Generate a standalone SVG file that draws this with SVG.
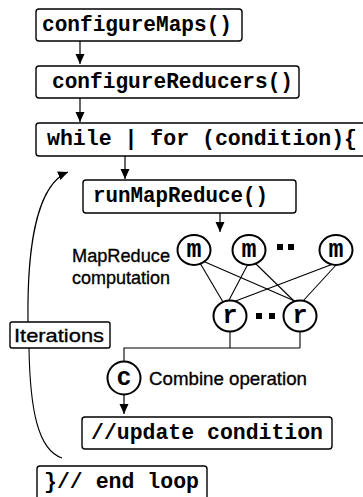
<svg xmlns="http://www.w3.org/2000/svg" width="363" height="497" viewBox="0 0 363 497">
  <style>
    .box { fill: #ffffff; stroke: #000000; stroke-width: 1.4; }
    .code { font-family: "Liberation Mono", "Courier New", monospace; font-weight: bold; font-size: 21.3px; fill: #000000; }
    .lbl { font-family: "Liberation Sans", Arial, sans-serif; font-size: 19px; fill: #000000; stroke: #000000; stroke-width: 0.35; }
    .node { fill: #ffffff; stroke: #000000; stroke-width: 2; }
    .letter { font-family: "Liberation Mono", "Courier New", monospace; font-weight: bold; font-size: 25px; fill: #000000; text-anchor: middle; }
    .edge { fill: none; stroke: #000000; stroke-width: 1.1; }
    .arrow { fill: none; stroke: #000000; stroke-width: 1.2; marker-end: url(#ah); }
    .dot { fill: #000000; }
  </style>
  <defs>
    <marker id="ah" markerUnits="userSpaceOnUse" markerWidth="12" markerHeight="12" viewBox="0 0 12 12" refX="10" refY="6" orient="auto">
      <path d="M0,1.5 L10,6 L0,10.5 Z" fill="#000000"/>
    </marker>
  </defs>
  <rect width="363" height="497" fill="#ffffff"/>

  <g id="connectors">
    <line class="arrow" x1="80" y1="41" x2="80" y2="64"/>
    <line class="arrow" x1="80" y1="98" x2="80" y2="122"/>
    <line class="arrow" x1="125" y1="156" x2="125" y2="179"/>
    <line class="arrow" x1="220" y1="213" x2="220" y2="232"/>
    <line class="edge" x1="200" y1="263" x2="223" y2="302"/>
    <line class="edge" x1="205" y1="262" x2="297" y2="302"/>
    <line class="edge" x1="248" y1="264" x2="228" y2="302"/>
    <line class="edge" x1="255" y1="263" x2="295" y2="302"/>
    <line class="edge" x1="333" y1="264" x2="233" y2="302"/>
    <line class="edge" x1="337" y1="264" x2="303" y2="301"/>
    <polyline class="edge" points="230,331 230,348"/>
    <polyline class="edge" points="300,331 300,348"/>
    <polyline class="edge" points="300,348 124,348 124,361"/>
    <line class="arrow" x1="124" y1="395" x2="124" y2="414"/>
    <path class="arrow" d="M28,322 C27,250 36,185 68,172"/>
    <path class="edge" d="M29,348 C30,410 38,450 62,458"/>
  </g>

  <g id="configureMaps">
    <rect class="box" x="36" y="9" width="206" height="32" rx="3"/>
    <text class="code" x="42" y="31" textLength="190" lengthAdjust="spacingAndGlyphs">configureMaps()</text>
  </g>
  <g id="configureReducers">
    <rect class="box" x="36" y="66" width="263" height="32" rx="3"/>
    <text class="code" x="52" y="88" textLength="241" lengthAdjust="spacingAndGlyphs">configureReducers()</text>
  </g>
  <g id="whileLoop">
    <rect class="box" x="36" y="123" width="340" height="33" rx="3"/>
    <text class="code" x="47" y="145" textLength="310" lengthAdjust="spacingAndGlyphs">while | for (condition){</text>
  </g>
  <g id="runMapReduce">
    <rect class="box" x="83" y="180" width="213" height="33" rx="3"/>
    <text class="code" x="93" y="202" textLength="175" lengthAdjust="spacingAndGlyphs">runMapReduce()</text>
  </g>
  <g id="mapreduceLabel">
    <text class="lbl" x="72" y="262" textLength="98" lengthAdjust="spacingAndGlyphs">MapReduce</text>
    <text class="lbl" x="72" y="284" textLength="98" lengthAdjust="spacingAndGlyphs">computation</text>
  </g>
  <g id="m1">
    <ellipse class="node" cx="194" cy="250" rx="16.5" ry="15"/>
    <text class="letter" x="194" y="257">m</text>
  </g>
  <g id="m2">
    <ellipse class="node" cx="249" cy="250" rx="16.5" ry="15"/>
    <text class="letter" x="249" y="257">m</text>
  </g>
  <g id="mDots">
    <rect class="dot" x="277" y="244" width="6" height="6"/>
    <rect class="dot" x="288" y="244" width="6" height="6"/>
  </g>
  <g id="m3">
    <ellipse class="node" cx="336" cy="250" rx="16.5" ry="15"/>
    <text class="letter" x="336" y="257">m</text>
  </g>
  <g id="r1">
    <ellipse class="node" cx="230" cy="316" rx="16.5" ry="15.5"/>
    <text class="letter" x="230" y="323">r</text>
  </g>
  <g id="rDots">
    <rect class="dot" x="256" y="313" width="6" height="6"/>
    <rect class="dot" x="269" y="313" width="6" height="6"/>
  </g>
  <g id="r2">
    <ellipse class="node" cx="300" cy="316" rx="16.5" ry="15.5"/>
    <text class="letter" x="300" y="323">r</text>
  </g>
  <g id="iterations">
    <rect class="box" x="10" y="322" width="100" height="26" rx="2"/>
    <text class="lbl" x="14" y="342" font-size="21" textLength="90" lengthAdjust="spacingAndGlyphs">Iterations</text>
  </g>
  <g id="combine">
    <ellipse class="node" cx="124" cy="378" rx="16.5" ry="16.5"/>
    <text class="letter" x="124" y="385">c</text>
    <text class="lbl" x="149" y="385" textLength="158" lengthAdjust="spacingAndGlyphs">Combine operation</text>
  </g>
  <g id="updateCondition">
    <rect class="box" x="82" y="417" width="250" height="32" rx="3"/>
    <text class="code" x="91" y="439" textLength="232" lengthAdjust="spacingAndGlyphs">//update condition</text>
  </g>
  <g id="endLoop">
    <rect class="box" x="37" y="466" width="170" height="40" rx="3"/>
    <text class="code" x="44" y="488" textLength="155" lengthAdjust="spacingAndGlyphs">}// end loop</text>
  </g>
</svg>
